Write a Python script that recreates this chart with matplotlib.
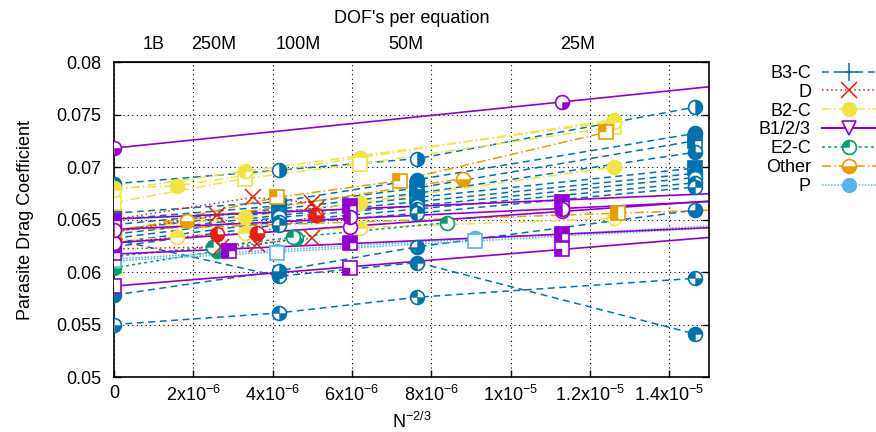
import numpy as np
import matplotlib
matplotlib.use("Agg")
from matplotlib import pyplot as plt
from matplotlib.path import Path
from matplotlib.lines import Line2D

plt.rcParams['font.family'] = ['Liberation Sans', 'DejaVu Sans']
plt.rcParams['mathtext.default'] = 'regular'
plt.rcParams['font.size'] = 13

# ---- data (N^-2/3 vs drag coefficient) ----
# B3-C : all on the same grid family
b3c_x = [0, 4.15e-6, 7.65e-6, 1.465e-5]
b3c_y = [
    [0.0550, 0.0561, 0.0576, 0.0594],
    [0.0631, 0.0596, 0.0609, 0.0541],
    [0.0578, 0.0601, 0.0624, 0.0659],
    [0.0684, 0.0697, 0.0708, 0.0757],
    [0.0656, 0.0667, 0.0688, 0.0732],
    [0.0650, 0.0663, 0.0680, 0.0725],
    [0.0645, 0.0660, 0.0675, 0.0714],
    [0.0640, 0.0657, 0.0671, 0.0699],
    [0.0636, 0.0654, 0.0667, 0.0694],
    [0.0632, 0.0652, 0.0663, 0.0690],
    [0.0628, 0.0648, 0.0660, 0.0685],
    [0.0624, 0.0645, 0.0656, 0.0681],
]

# D
d_x = [
    [0, 2.7e-6, 3.6e-6, 5.0e-6],
    [0, 2.6e-6, 3.6e-6, 5.1e-6],
    [0, 3.5e-6, 5.0e-6],
    [0, 2.6e-6, 5.1e-6],
]
d_y = [
    [0.0622, 0.0624, 0.0627, 0.0632],
    [0.0628, 0.0636, 0.0637, 0.0654],
    [0.0650, 0.0671, 0.0666],
    [0.0638, 0.0654, 0.0660],
]

# B2-C
b2c_x = [
    [0, 1.58e-6, 6.2e-6, 1.26e-5],
    [0, 3.3e-6, 6.2e-6, 1.26e-5],
    [0, 3.3e-6, 1.26e-5],
    [0, 3.3e-6, 6.2e-6, 1.26e-5],
    [0, 1.58e-6, 3.3e-6, 6.2e-6, 1.26e-5],
]
b2c_y = [
    [0.0680, 0.0682, 0.0709, 0.0745],
    [0.0666, 0.0689, 0.0703, 0.0738],
    [0.0678, 0.0696, 0.0743],
    [0.0640, 0.0652, 0.0666, 0.0700],
    [0.0630, 0.0633, 0.0637, 0.0642, 0.0651],
]

# B1/2/3
b123_x = [
    [0, 1.13e-5],
    [0, 5.96e-6, 1.13e-5],
    [0, 2.9e-6, 5.96e-6, 1.13e-5],
    [0, 5.96e-6, 1.13e-5],
    [0, 5.96e-6, 1.13e-5],
    [0, 5.96e-6, 1.13e-5],
]
b123_y = [
    [0.0718, 0.0762],
    [0.0587, 0.0604, 0.0622],
    [0.0618, 0.0620, 0.0628, 0.0636],
    [0.0649, 0.0663, 0.0667],
    [0.0628, 0.0643, 0.0658],
    [0.0640, 0.0652, 0.0660],
]

# E2-C
e2c_x = [
    [0, 2.6e-6, 4.6e-6],
    [0, 2.5e-6, 4.5e-6, 8.4e-6],
]
e2c_y = [
    [0.0604, 0.0620, 0.0632],
    [0.0615, 0.0624, 0.0633, 0.0647],
]

# Other
other_x = [
    [0, 4.1e-6, 7.2e-6, 1.24e-5],
    [0, 1.85e-6, 8.8e-6],
    [0, 1.27e-5],
]
other_y = [
    [0.0637, 0.0671, 0.0687, 0.0733],
    [0.0640, 0.0649, 0.0689],
    [0.0640, 0.0656],
]

# P
p_x = [
    [0, 4.1e-6, 9.1e-6],
    [0, 4.1e-6, 9.1e-6],
]
p_y = [
    [0.0613, 0.0620, 0.0632],
    [0.0611, 0.0618, 0.0630],
]

x_ticks = [0, 2e-6, 4e-6, 6e-6, 8e-6, 1e-5, 1.2e-5, 1.4e-5]
x_ticklabels = ['0', '2x10$^{-6}$', '4x10$^{-6}$', '6x10$^{-6}$', '8x10$^{-6}$',
                '1x10$^{-5}$', '1.2x10$^{-5}$', '1.4x10$^{-5}$']
dof_counts = [1e9, 2.5e8, 1e8, 5e7, 2.5e7]
dof_labels = ['1B', '250M', '100M', '50M', '25M']


def part(shape, quads):
    # filled quadrants of a circle / square marker (0=upper right, counter-clockwise)
    pieces = []
    for q in quads:
        if shape == 'o':
            pieces.append(Path.wedge(90 * q, 90 * q + 90))
        else:
            sx = 1 if q in (0, 3) else -1
            sy = 1 if q in (0, 1) else -1
            pieces.append(Path([(0, 0), (sx, 0), (sx, sy), (0, sy), (0, 0)],
                               [Path.MOVETO, Path.LINETO, Path.LINETO, Path.LINETO, Path.CLOSEPOLY]))
    return Path.make_compound_path(*pieces)


MS = 10
X_END = 1.5e-5


def draw(ax, x, y, color, ls, mark, extend=False, lw=1.1):
    x = np.asarray(x)
    y = np.asarray(y)
    if extend:
        coe = np.polyfit(x, y, 1)
        xl = np.array([0, X_END])
        ax.plot(xl, coe[0] * xl + coe[1], color=color, ls=ls, lw=lw, zorder=2)
    else:
        ax.plot(x, y, color=color, ls=ls, lw=lw, zorder=2)
    shape, quads = mark
    if shape in ('x', '+'):
        ax.plot(x, y, ls='none', marker=shape, ms=MS + 1, mec=color, mew=1.1, zorder=3)
        return
    ax.plot(x, y, ls='none', marker=shape, ms=MS, mfc='white', mec=color, mew=1.2, zorder=3)
    if quads:
        ax.plot(x, y, ls='none', marker=part(shape, quads), ms=MS, mfc=color, mec=color, mew=0.3, zorder=3)


c_blue = '#0072b2'
c_red = '#e51e10'
c_yellow = '#f0e442'
c_purple = '#9400d3'
c_green = '#009e73'
c_orange = '#e69f00'
c_lblue = '#56b4e9'

ls_b3c = (0, (4.5, 3))
ls_d = (0, (1, 2))
ls_b2c = (0, (6, 2, 1, 2))
ls_b123 = '-'
ls_e2c = (0, (2, 2))
ls_other = (0, (6, 2, 1, 2))
ls_p = (0, (1, 1))

fig = plt.figure(figsize=(8.76, 4.32), dpi=100)
ax = fig.add_axes([114 / 876, 55 / 432, 595 / 876, 315 / 432])

blue_marks = [('o', [1, 3]), ('o', [0, 1, 2]), ('o', [0, 2, 3]), ('o', [0, 3]), ('o', [0, 1, 3]),
              ('s', [0, 1, 2]), ('o', [1, 2, 3]), ('s', [0, 1, 3]), ('o', [0, 1]), ('o', [2, 3]),
              ('o', [1, 3]), ('o', [0, 2])]
for i, yy in enumerate(b3c_y):
    draw(ax, b3c_x, yy, c_blue, ls_b3c, blue_marks[i])

yellow_marks = [('o', [0, 1, 2, 3]), ('s', []), ('o', [0, 1, 2]), ('o', [0, 1, 2, 3]), ('o', [0, 1])]
for xx, yy, m in zip(b2c_x, b2c_y, yellow_marks):
    draw(ax, xx, yy, c_yellow, ls_b2c, m)

other_marks = [('s', [1]), ('o', [2, 3]), ('s', [1, 2])]
for k, (xx, yy, m) in enumerate(zip(other_x, other_y, other_marks)):
    draw(ax, xx, yy, c_orange, ls_other, m, extend=(k == 2))

e2c_marks = [('o', [1, 2, 3]), ('o', [1])]
for xx, yy, m in zip(e2c_x, e2c_y, e2c_marks):
    draw(ax, xx, yy, c_green, ls_e2c, m)

p_marks = [('o', [0, 1, 2, 3]), ('s', [])]
for xx, yy, m in zip(p_x, p_y, p_marks):
    draw(ax, xx, yy, c_lblue, ls_p, m, extend=True)

d_marks = [('x', None), ('o', [1, 2, 3]), ('x', None), ('x', None)]
for xx, yy, m in zip(d_x, d_y, d_marks):
    draw(ax, xx, yy, c_red, ls_d, m)

purple_marks = [('o', [3]), ('s', [2]), ('s', [0, 1, 2]), ('s', [0, 1, 2]), ('o', []), ('o', [1, 2])]
for xx, yy, m in zip(b123_x, b123_y, purple_marks):
    draw(ax, xx, yy, c_purple, ls_b123, m, extend=True, lw=1.2)

ax.set_xlim(0, X_END)
ax.set_ylim(0.05, 0.08)
ax.set_xticks(x_ticks)
ax.set_xticklabels(x_ticklabels)
ax.set_yticks([0.05, 0.055, 0.06, 0.065, 0.07, 0.075, 0.08])
ax.set_yticklabels(['0.05', '0.055', '0.06', '0.065', '0.07', '0.075', '0.08'])
ax.tick_params(axis='both', direction='in', length=5, width=1, top=False, right=True)
ax.tick_params(axis='x', pad=6)
ax.tick_params(axis='y', pad=9)
ax.grid(True, color='black', ls=(0, (1, 3)), lw=0.8)
ax.set_axisbelow(True)
for s in ax.spines.values():
    s.set_linewidth(1.2)
ax.set_xlabel('N$^{-2/3}$', labelpad=5)
ax.set_ylabel('Parasite Drag Coefficient', labelpad=16)

top = ax.secondary_xaxis('top')
top.set_xticks([n ** (-2 / 3) for n in dof_counts])
top.set_xticklabels(dof_labels)
top.tick_params(direction='in', length=0, pad=6.5)
top.set_xlabel("DOF's per equation", labelpad=9)

handles = [
    Line2D([], [], color=c_blue, ls=ls_b3c, lw=1.1, marker='+', ms=MS + 3, mew=1.1),
    Line2D([], [], color=c_red, ls=ls_d, lw=1.1, marker='x', ms=MS + 2, mew=1.1),
    Line2D([], [], color=c_yellow, ls=ls_b2c, lw=1.1, marker='o', ms=MS),
    Line2D([], [], color=c_purple, ls=ls_b123, lw=1.5, marker='v', ms=MS, mfc='white', mew=1.2),
    (Line2D([], [], color=c_green, ls=ls_e2c, lw=1.1, marker='o', ms=MS, mfc='white', mew=1.2),
     Line2D([], [], ls='none', marker=part('o', [1]), ms=MS, mfc=c_green, mec=c_green, mew=0.3)),
    (Line2D([], [], color=c_orange, ls=ls_other, lw=1.1, marker='o', ms=MS, mfc='white', mew=1.2),
     Line2D([], [], ls='none', marker=part('o', [2, 3]), ms=MS, mfc=c_orange, mec=c_orange, mew=0.3)),
    Line2D([], [], color=c_lblue, ls=ls_p, lw=1.1, marker='o', ms=MS),
]
labels = ['B3-C', 'D', 'B2-C', 'B1/2/3', 'E2-C', 'Other', 'P']
fig.legend(handles, labels, loc='upper right', bbox_to_anchor=(1.0, (432 - 65) / 432),
           frameon=False, markerfirst=False, handlelength=3.0, handletextpad=0.6,
           labelspacing=0.1, borderpad=0.0, borderaxespad=0.0)

plt.savefig("out.png", dpi=100)
